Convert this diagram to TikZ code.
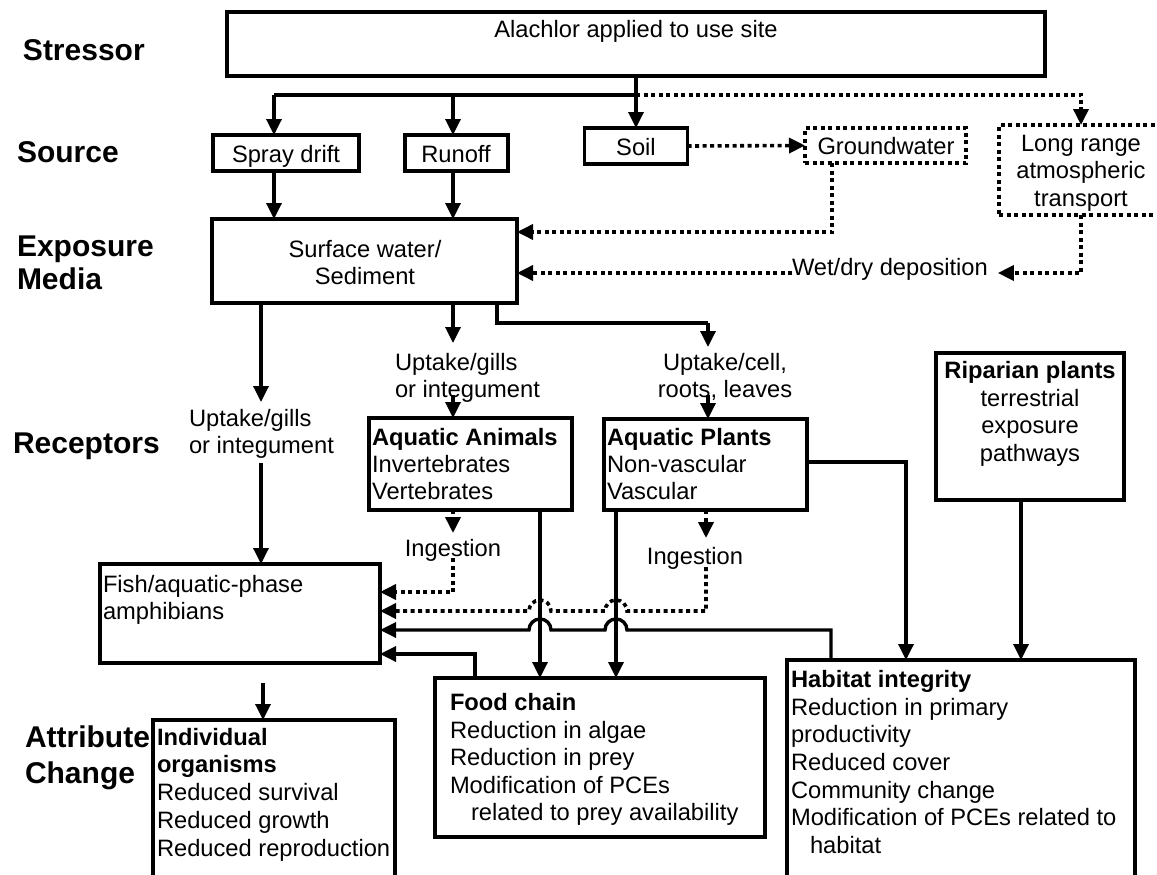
\documentclass[tikz,border=0pt]{standalone}
\usepackage{fontspec}
\setmainfont{Liberation Sans}
\usetikzlibrary{arrows.meta,calc}
\begin{document}
\begin{tikzpicture}[x=1pt,y=-1pt,
  box/.style={draw,line width=3.6pt,rectangle,inner sep=0pt,outer sep=0pt,anchor=north west},
  dbox/.style={box,line width=3.6pt,dash pattern=on 4pt off 3.5pt},
  txt/.style={inner sep=0pt,outer sep=0pt,font=\fontsize{23.7}{27.7}\selectfont},
  tl/.style={txt,anchor=base west},
  tc/.style={txt,anchor=base},
  hdr/.style={inner sep=0pt,outer sep=0pt,font=\fontsize{30}{35}\selectfont\bfseries,anchor=base west},
  ln/.style={line width=3.4pt},
  arr/.style={ln,-{Triangle[length=16pt,width=15pt]}},
  dln/.style={ln,line width=3.6pt,dash pattern=on 4pt off 3.5pt},
  darr/.style={dln,-{Triangle[length=16pt,width=15pt]}}
]
\useasboundingbox (0,0) rectangle (1157,875);
\fill[white] (0,0) rectangle (1157,875);
\clip (0,0) rectangle (1157,875);

% ---------- level labels
\node[hdr] (hStress) at (23,61) {Stressor};
\node[hdr] (hSource) at (17,162) {Source};
\node[hdr] (hExp1) at (17,256) {Exposure};
\node[hdr] (hExp2) at (17,289) {Media};
\node[hdr] (hRec) at (13,453) {Receptors};
\node[hdr] (hAtt1) at (25,747) {Attribute};
\node[hdr] (hAtt2) at (25,783) {Change};

% ---------- boxes
\node[box,minimum width=818pt,minimum height=64pt] (stressor) at (227,12) {};
\node[box,minimum width=146pt,minimum height=36pt] (spray) at (213,135) {};
\node[box,minimum width=103pt,minimum height=36pt] (runoff) at (405,135) {};
\node[box,minimum width=103pt,minimum height=36pt] (soil) at (584.5,128) {};
\node[dbox,minimum width=161pt,minimum height=35pt] (gw) at (805,128) {};
\node[dbox,minimum width=164pt,minimum height=90pt] (lrat) at (999,125) {};
\node[box,minimum width=305pt,minimum height=84pt] (sw) at (212,219) {};
\node[box,minimum width=203pt,minimum height=92pt] (animals) at (369,418) {};
\node[box,minimum width=203pt,minimum height=91pt] (plants) at (604,419) {};
\node[box,minimum width=188pt,minimum height=147pt] (riparian) at (936,353) {};
\node[box,minimum width=280pt,minimum height=99pt] (fish) at (100,564) {};
\node[box,minimum width=330pt,minimum height=159pt] (food) at (435,678) {};
\node[box,minimum width=242pt,minimum height=170pt] (indiv) at (153,720) {};
\node[box,minimum width=348pt,minimum height=230pt] (habitat) at (787,660) {};

% ---------- box texts
\node[tc] (tStress) at (636,38) {Alachlor applied to use site};
\node[tc] (tSpray) at (286,162) {Spray drift};
\node[tc] (tRunoff) at (456,162) {Runoff};
\node[tc] (tSoil) at (636,155) {Soil};
\node[tc] (tGw) at (886,154) {Groundwater};
\node[tc] (tL1) at (1081,151) {Long range};
\node[tc] (tL2) at (1081,178) {atmospheric};
\node[tc] (tL3) at (1081,206) {transport};
\node[tc] (tSw1) at (365,257) {Surface water/};
\node[tc] (tSw2) at (365,284) {Sediment};
\node[tl] (wd) at (792,275) {Wet/dry deposition};

\node[tl] (uA1) at (189,426) {Uptake/gills};
\node[tl] (uA2) at (189,453) {or integument};
\node[tl] (uB1) at (395,370) {Uptake/gills};
\node[tl] (uB2) at (395,397) {or integument};
\node[tc] (uC1) at (725,370) {Uptake/cell,};
\node[tc] (uC2) at (725,397) {roots, leaves};

\node[tl] (an1) at (372,445) {\bfseries Aquatic Animals};
\node[tl] (an2) at (372,472) {Invertebrates};
\node[tl] (an3) at (372,499) {Vertebrates};
\node[tl] (pl1) at (607,445) {\bfseries Aquatic Plants};
\node[tl] (pl2) at (607,472) {Non-vascular};
\node[tl] (pl3) at (607,499) {Vascular};
\node[tc] (rp1) at (1030,378) {\bfseries Riparian plants};
\node[tc] (rp2) at (1030,406) {terrestrial};
\node[tc] (rp3) at (1030,433) {exposure};
\node[tc] (rp4) at (1030,461) {pathways};

\node[tc] (ingA) at (453,556) {Ingestion};
\node[tc] (ingP) at (695,564) {Ingestion};

\node[tl] (fi1) at (103,592) {Fish/aquatic-phase};
\node[tl] (fi2) at (103,619) {amphibians};

\node[tl] (fc1) at (450,710) {\bfseries Food chain};
\node[tl] (fc2) at (450,738) {Reduction in algae};
\node[tl] (fc3) at (450,765) {Reduction in prey};
\node[tl] (fc4) at (450,793) {Modification of PCEs};
\node[tl] (fc5) at (471,820) {related to prey availability};

\node[tl] (io1) at (157,745) {\bfseries Individual};
\node[tl] (io2) at (157,772) {\bfseries organisms};
\node[tl] (io3) at (157,800) {Reduced survival};
\node[tl] (io4) at (157,828) {Reduced growth};
\node[tl] (io5) at (157,856) {Reduced reproduction};

\node[tl] (hb1) at (791,687) {\bfseries Habitat integrity};
\node[tl] (hb2) at (791,715) {Reduction in primary};
\node[tl] (hb3) at (791,742) {productivity};
\node[tl] (hb4) at (791,770) {Reduced cover};
\node[tl] (hb5) at (791,798) {Community change};
\node[tl] (hb6) at (791,825) {Modification of PCEs related to};
\node[tl] (hb7) at (810,853) {habitat};

% ---------- helper coordinates
\coordinate (j) at (636,95);
\coordinate (a1) at (274,95);
\coordinate (a2) at (453,95);
\coordinate (g1) at (832,232);
\coordinate (l1) at (1081,273);
\coordinate (b1) at (261,402);
\coordinate (b2) at (261,463);
\coordinate (c1) at (453,343);
\coordinate (c2) at (453,395);
\coordinate (d0) at (497,323);
\coordinate (d1) at (708,323);
\coordinate (d2) at (708,347);
\coordinate (d3) at (708,395);
\coordinate (e1) at (906,462);
\coordinate (f1) at (1021,500);
\coordinate (h1) at (453,533);
\coordinate (h2) at (453,558);
\coordinate (h3) at (453,592);
\coordinate (k1) at (540,600);
\coordinate (k2) at (616,600);
\coordinate (m1) at (706,538);
\coordinate (q1) at (706,567);
\coordinate (q2) at (706,611);
\coordinate (p1) at (831,630);
\coordinate (r1) at (475,654);
\coordinate (n1) at (263,683);

% ---------- connectors: stressor to sources
\draw[ln] (a1) -- (j);
\draw[arr] (a1) -- (a1 |- spray.north);
\draw[arr] (a2) -- (a2 |- runoff.north);
\draw[arr] (stressor.south) -- (soil.north);
\draw[darr] (j) -| (lrat.north);

% sources to exposure media
\draw[arr] (spray.south -| a1) -- (sw.north -| a1);
\draw[arr] (runoff.south -| a2) -- (sw.north -| a2);
\draw[darr] (soil.east) -- (gw.west);
\draw[darr] (gw.south -| g1) -- (g1) -- (g1 -| sw.east);
\draw[darr] (lrat.south) -- (l1) -- ([xshift=10pt]wd.east |- l1);
\draw[darr] (wd.west |- l1) -- (l1 -| sw.east);

% exposure media to receptors
\draw[arr] (sw.south -| b1) -- (b1);
\draw[arr] (b2) -- (b2 |- fish.north);
\draw[arr] (sw.south -| c1) -- (c1);
\draw[arr] (c2) -- (c2 |- animals.north);
\draw[ln] (sw.south -| d0) -- (d0) -- (d1);
\draw[arr] (d1) -- (d2);
\draw[arr] (d3) -- (d3 |- plants.north);

% receptors to attribute change
\draw[arr] (plants.east |- e1) -- (e1) -- (e1 |- habitat.north);
\draw[arr] (riparian.south -| f1) -- (f1 |- habitat.north);
\draw[darr] (animals.south -| h1) -- (h1);
\draw[darr] (h2) -- (h3) -- (h3 -| fish.east);
\draw[arr] (animals.south -| k1) -- (k1 |- food.north);
\draw[arr] (plants.south -| k2) -- (k2 |- food.north);
\draw[darr] (plants.south -| m1) -- (m1);
\draw[darr] (q1) -- (q2) -- ($(k2 |- q2)+(11,0)$) arc[start angle=0,end angle=180,radius=11pt]
  -- ($(k1 |- q2)+(11,0)$) arc[start angle=0,end angle=180,radius=11pt] -- (q2 -| fish.east);
\draw[arr] (habitat.north -| p1) -- (p1) -- ($(k2 |- p1)+(11,0)$) arc[start angle=0,end angle=180,radius=11pt]
  -- ($(k1 |- p1)+(11,0)$) arc[start angle=0,end angle=180,radius=11pt] -- (p1 -| fish.east);
\draw[arr] (food.north -| r1) -- (r1) -- (r1 -| fish.east);
\draw[arr] (n1) -- (n1 |- indiv.north);
\end{tikzpicture}
\end{document}
